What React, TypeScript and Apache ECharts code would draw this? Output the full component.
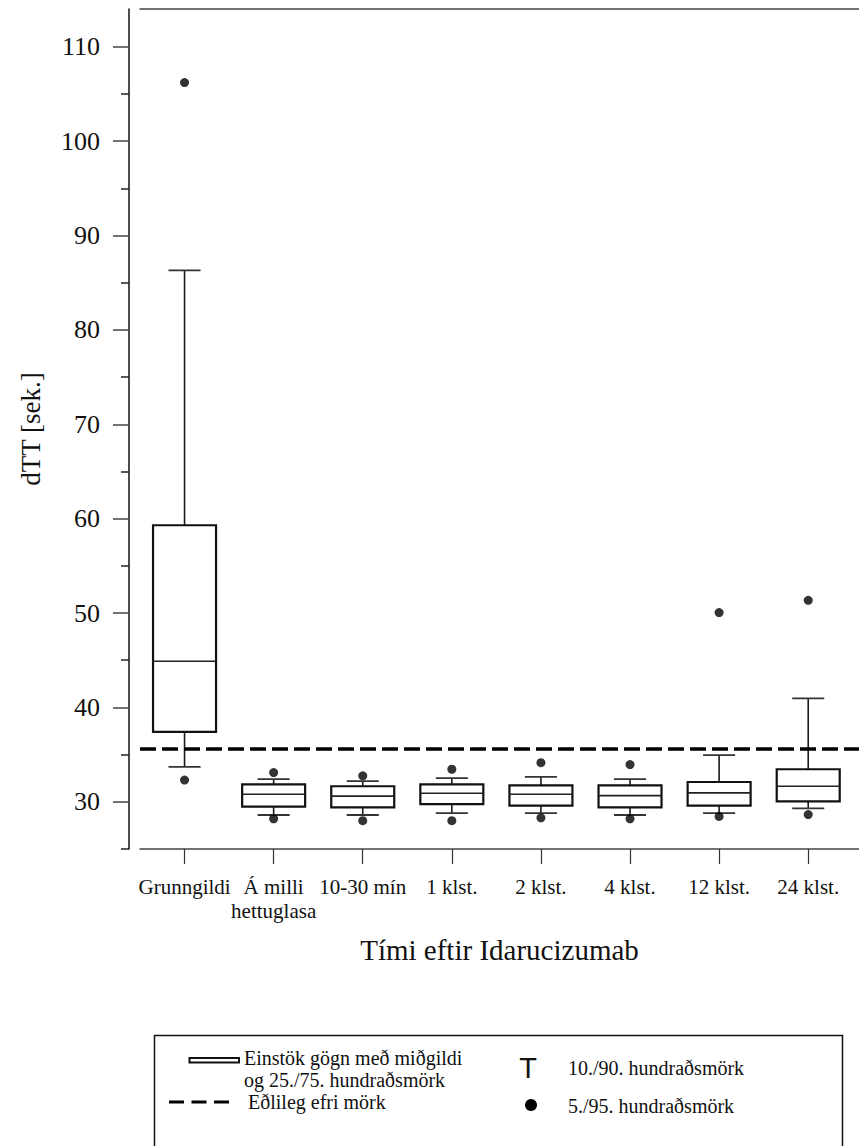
import React, { useEffect, useRef } from "react";
import * as echarts from "echarts";

const categories = [
  "Grunngildi",
  "Á milli\nhettuglasa",
  "10-30 mín",
  "1 klst.",
  "2 klst.",
  "4 klst.",
  "12 klst.",
  "24 klst.",
];
const p10 = [33.7, 28.6, 28.6, 28.8, 28.8, 28.6, 28.8, 29.3];
const q1 = [37.4, 29.5, 29.4, 29.75, 29.6, 29.4, 29.6, 30.05];
const median = [44.9, 30.8, 30.6, 30.9, 30.8, 30.65, 30.95, 31.65];
const q3 = [59.3, 31.85, 31.65, 31.85, 31.75, 31.75, 32.1, 33.45];
const p90 = [86.3, 32.4, 32.2, 32.5, 32.65, 32.4, 34.95, 40.95];
const p5 = [32.3, 28.2, 28.0, 28.0, 28.3, 28.2, 28.45, 28.65];
const p95 = [106.2, 33.1, 32.75, 33.45, 34.15, 33.95, 50.05, 51.35];
const upperNormal = 35.6;
const yMajorTicks = [30, 40, 50, 60, 70, 80, 90, 100, 110];
const yMinorTicks = [25, 35, 45, 55, 65, 75, 85, 95, 105];
const xPositions = [1, 2, 3, 4, 5, 6, 7, 8];

const yTitle = "dTT [sek.]";
const xTitle = "Tími eftir Idarucizumab";
const legendBoxText1 = "Einstök gögn með miðgildi";
const legendBoxText2 = "og 25./75. hundraðsmörk";
const legendDashText = "Eðlileg efri mörk";
const legendWhiskerText = "10./90. hundraðsmörk";
const legendDotText = "5./95. hundraðsmörk";

const SERIF = "'Liberation Serif', 'Times New Roman', serif";
const SANS = "'Liberation Sans', Arial, sans-serif";

export default function App() {
  const ref = useRef<HTMLDivElement>(null);

  useEffect(() => {
    document.body.style.margin = "0";
    if (!ref.current) return;
    const chart = echarts.init(ref.current, null, { renderer: "svg" });

    const boxData = xPositions.map((x, i) => [x, p10[i], q1[i], median[i], q3[i], p90[i]]);
    const dotData: number[][] = [];
    xPositions.forEach((x, i) => {
      dotData.push([x, p5[i]]);
      dotData.push([x, p95[i]]);
    });

    const legendText = (text: string, x: number, y: number) => ({
      type: "text",
      x,
      y,
      style: {
        text,
        fontSize: 20,
        lineHeight: 20,
        fontFamily: SERIF,
        fill: "#111",
        verticalAlign: "middle",
        align: "left",
      },
    });

    const option: any = {
      animation: false,
      backgroundColor: "#fff",
      grid: { left: 140, right: 0, top: 9, bottom: 297, containLabel: false },
      xAxis: [
        {
          type: "value",
          min: 0.5,
          max: 8.57,
          position: "bottom",
          axisLine: { show: true, onZero: false, lineStyle: { color: "#444", width: 1.5 } },
          axisTick: { show: true, customValues: xPositions, length: 15, lineStyle: { color: "#333", width: 1.2 } },
          axisLabel: {
            show: true,
            customValues: xPositions,
            formatter: (v: number) => categories[Math.round(v) - 1] ?? "",
            fontSize: 21,
            lineHeight: 24,
            fontFamily: SERIF,
            color: "#111",
            margin: 26,
          },
          splitLine: { show: false },
          name: xTitle,
          nameLocation: "middle",
          nameGap: 86,
          nameTextStyle: { fontSize: 29, fontFamily: SERIF, color: "#111" },
        },
        {
          type: "value",
          min: 0.5,
          max: 8.57,
          position: "top",
          axisLine: { show: true, onZero: false, lineStyle: { color: "#444", width: 1.5 } },
          axisTick: { show: false },
          axisLabel: { show: false },
          splitLine: { show: false },
        },
      ],
      yAxis: [
        {
          type: "value",
          min: 25,
          max: 114,
          position: "left",
          offset: 11,
          axisLine: { show: true, onZero: false, lineStyle: { color: "#111", width: 1.5 } },
          axisTick: { show: true, customValues: yMajorTicks, length: 16, lineStyle: { color: "#444", width: 1.5 } },
          axisLabel: {
            show: true,
            customValues: yMajorTicks,
            fontSize: 26,
            fontFamily: SERIF,
            color: "#111",
            margin: 29,
          },
          splitLine: { show: false },
          name: yTitle,
          nameLocation: "middle",
          nameGap: 85,
          nameTextStyle: { fontSize: 27, fontFamily: SERIF, color: "#111" },
        },
        {
          type: "value",
          min: 25,
          max: 114,
          position: "left",
          offset: 11,
          axisLine: { show: false },
          axisTick: { show: true, customValues: yMinorTicks, length: 8, lineStyle: { color: "#222", width: 1.5 } },
          axisLabel: { show: false },
          splitLine: { show: false },
        },
      ],
      series: [
        {
          type: "custom",
          xAxisIndex: 0,
          yAxisIndex: 0,
          data: boxData,
          encode: { x: 0, y: [1, 2, 3, 4, 5] },
          renderItem: (params: any, api: any) => {
            const x = api.value(0);
            const lo = api.coord([x, api.value(1)]);
            const b1 = api.coord([x, api.value(2)]);
            const md = api.coord([x, api.value(3)]);
            const b3 = api.coord([x, api.value(4)]);
            const hi = api.coord([x, api.value(5)]);
            const unit = api.size([1, 0])[0];
            const bw = unit * 0.707;
            const cw = unit * 0.36;
            const cx = lo[0];
            const ws = { stroke: "#1a1a1a", lineWidth: 1.6 };
            return {
              type: "group",
              children: [
                { type: "line", shape: { x1: cx, y1: hi[1], x2: cx, y2: b3[1] }, style: ws },
                { type: "line", shape: { x1: cx, y1: b1[1], x2: cx, y2: lo[1] }, style: ws },
                { type: "line", shape: { x1: cx - cw / 2, y1: hi[1], x2: cx + cw / 2, y2: hi[1] }, style: { stroke: "#333", lineWidth: 1.8 } },
                { type: "line", shape: { x1: cx - cw / 2, y1: lo[1], x2: cx + cw / 2, y2: lo[1] }, style: { stroke: "#333", lineWidth: 1.8 } },
                {
                  type: "rect",
                  shape: { x: cx - bw / 2, y: b3[1], width: bw, height: b1[1] - b3[1] },
                  style: { fill: "#fff", stroke: "#111", lineWidth: 2.2 },
                },
                { type: "line", shape: { x1: cx - bw / 2, y1: md[1], x2: cx + bw / 2, y2: md[1] }, style: { stroke: "#222", lineWidth: 1.6 } },
              ],
            };
          },
          z: 2,
        },
        {
          type: "scatter",
          xAxisIndex: 0,
          yAxisIndex: 0,
          data: dotData,
          symbol: "circle",
          symbolSize: 9,
          itemStyle: { color: "#000" },
          z: 3,
          markLine: {
            silent: true,
            symbol: "none",
            label: { show: false },
            lineStyle: { color: "#000", width: 3.5, type: [16, 6] },
            data: [{ yAxis: upperNormal }],
            z: 4,
          },
        },
      ],
      graphic: [
        {
          type: "rect",
          shape: { x: 154.5, y: 1035.5, width: 688, height: 120 },
          style: { fill: "none", stroke: "#111", lineWidth: 1.5 },
        },
        {
          type: "rect",
          shape: { x: 189.5, y: 1058, width: 49.5, height: 4.5 },
          style: { fill: "#fff", stroke: "#111", lineWidth: 2 },
        },
        legendText(legendBoxText1, 244, 1058),
        legendText(legendBoxText2, 244, 1080),
        {
          type: "line",
          shape: { x1: 169, y1: 1102, x2: 229, y2: 1102 },
          style: { stroke: "#000", lineWidth: 3, lineDash: [15, 7.5] },
        },
        legendText(legendDashText, 248, 1102),
        {
          type: "text",
          x: 528,
          y: 1068,
          style: { text: "T", fontSize: 29, fontFamily: SANS, fill: "#111", verticalAlign: "middle", align: "center" },
        },
        legendText(legendWhiskerText, 568, 1068),
        {
          type: "circle",
          shape: { cx: 531, cy: 1105, r: 6 },
          style: { fill: "#000" },
        },
        legendText(legendDotText, 568, 1106),
      ],
    };

    chart.setOption(option);
    return () => chart.dispose();
  }, []);

  return <div ref={ref} style={{ width: 859, height: 1146 }} />;
}
